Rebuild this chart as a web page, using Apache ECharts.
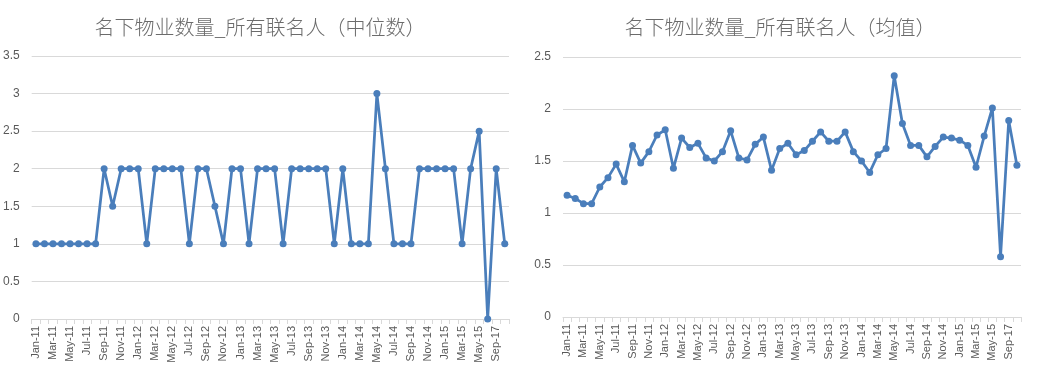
<!DOCTYPE html>
<html>
<head>
<meta charset="utf-8">
<script src="https://cdn.jsdelivr.net/npm/echarts@6/dist/echarts.min.js"></script>
<style>
html,body{margin:0;padding:0;background:#fff;}
#c{width:1045px;height:390px;}
</style>
</head>
<body>
<div id="c"></div>
<script>
const categories = ["Jan-11","Feb-11","Mar-11","Apr-11","May-11","Jun-11","Jul-11","Aug-11","Sep-11","Oct-11","Nov-11","Dec-11",
"Jan-12","Feb-12","Mar-12","Apr-12","May-12","Jun-12","Jul-12","Aug-12","Sep-12","Oct-12","Nov-12","Dec-12",
"Jan-13","Feb-13","Mar-13","Apr-13","May-13","Jun-13","Jul-13","Aug-13","Sep-13","Oct-13","Nov-13","Dec-13",
"Jan-14","Feb-14","Mar-14","Apr-14","May-14","Jun-14","Jul-14","Aug-14","Sep-14","Oct-14","Nov-14","Dec-14",
"Jan-15","Feb-15","Mar-15","Apr-15","May-15","Jun-15","Sep-17","Oct-17"];

const medianValues = [1,1,1,1,1,1,1,1,2,1.5,2,2,
2,1,2,2,2,2,1,2,2,1.5,1,2,
2,1,2,2,2,1,2,2,2,2,2,1,
2,1,1,1,3,2,1,1,1,2,2,2,
2,2,1,2,2.5,0,2,1];

const meanValues = [1.17,1.14,1.09,1.09,1.25,1.34,1.47,1.30,1.65,1.48,1.59,1.75,
1.80,1.43,1.72,1.63,1.67,1.53,1.50,1.59,1.79,1.53,1.51,1.66,
1.73,1.41,1.62,1.67,1.56,1.60,1.69,1.78,1.69,1.69,1.78,1.59,
1.50,1.39,1.56,1.62,2.32,1.86,1.65,1.65,1.54,1.64,1.73,1.72,
1.70,1.65,1.44,1.74,2.01,0.58,1.89,1.46];

const titles = ["名下物业数量_所有联名人（中位数）", "名下物业数量_所有联名人（均值）"];
const leftYTicks = {min:0, max:3.5, interval:0.5};
const rightYTicks = {min:0, max:2.5, interval:0.5};

const FONT = "'Liberation Sans', 'Noto Sans CJK SC', sans-serif";
const gray = '#595959';
const lineColor = '#4a7ebb';

function xAxis(gi){
  return {
    type:'category', gridIndex:gi, data:categories, boundaryGap:true,
    axisLine:{show:true, lineStyle:{color:'#d9d9d9', width:1}},
    axisTick:{show:true, alignWithLabel:false, interval:0, length:5, lineStyle:{color:'#d9d9d9'}},
    axisLabel:{interval:1, rotate:90, color:gray, fontSize:11, fontFamily:FONT, margin:7},
    splitLine:{show:false}
  };
}
function yAxis(gi, t){
  return {
    type:'value', gridIndex:gi, min:t.min, max:t.max, interval:t.interval,
    axisLine:{show:false}, axisTick:{show:false},
    axisLabel:{color:gray, fontSize:12, fontFamily:FONT, margin:12},
    splitLine:{lineStyle:{color:'#d9d9d9', width:1}}
  };
}
function series(xi, data){
  return {
    type:'line', xAxisIndex:xi, yAxisIndex:xi, data:data,
    symbol:'circle', symbolSize:7, showSymbol:true, showAllSymbol:true,
    lineStyle:{color:lineColor, width:2.75},
    itemStyle:{color:lineColor},
    animation:false
  };
}

const chart = echarts.init(document.getElementById('c'), null, {renderer:'canvas'});
chart.setOption({
  backgroundColor:'#fff',
  animation:false,
  title:[
    {text:titles[0], left:255, top:12, textAlign:'center',
     textStyle:{color:'#6b6b6b', fontSize:20, fontWeight:300, fontFamily:"'Noto Sans CJK SC', sans-serif"}},
    {text:titles[1], left:775, top:12, textAlign:'center',
     textStyle:{color:'#6b6b6b', fontSize:20, fontWeight:300, fontFamily:"'Noto Sans CJK SC', sans-serif"}}
  ],
  grid:[
    {left:30, top:56, width:479, height:263, containLabel:false},
    {left:563, top:57, width:458, height:260, containLabel:false}
  ],
  xAxis:[xAxis(0), xAxis(1)],
  yAxis:[yAxis(0,leftYTicks), yAxis(1,rightYTicks)],
  series:[series(0, medianValues), series(1, meanValues)]
});
</script>
</body>
</html>
